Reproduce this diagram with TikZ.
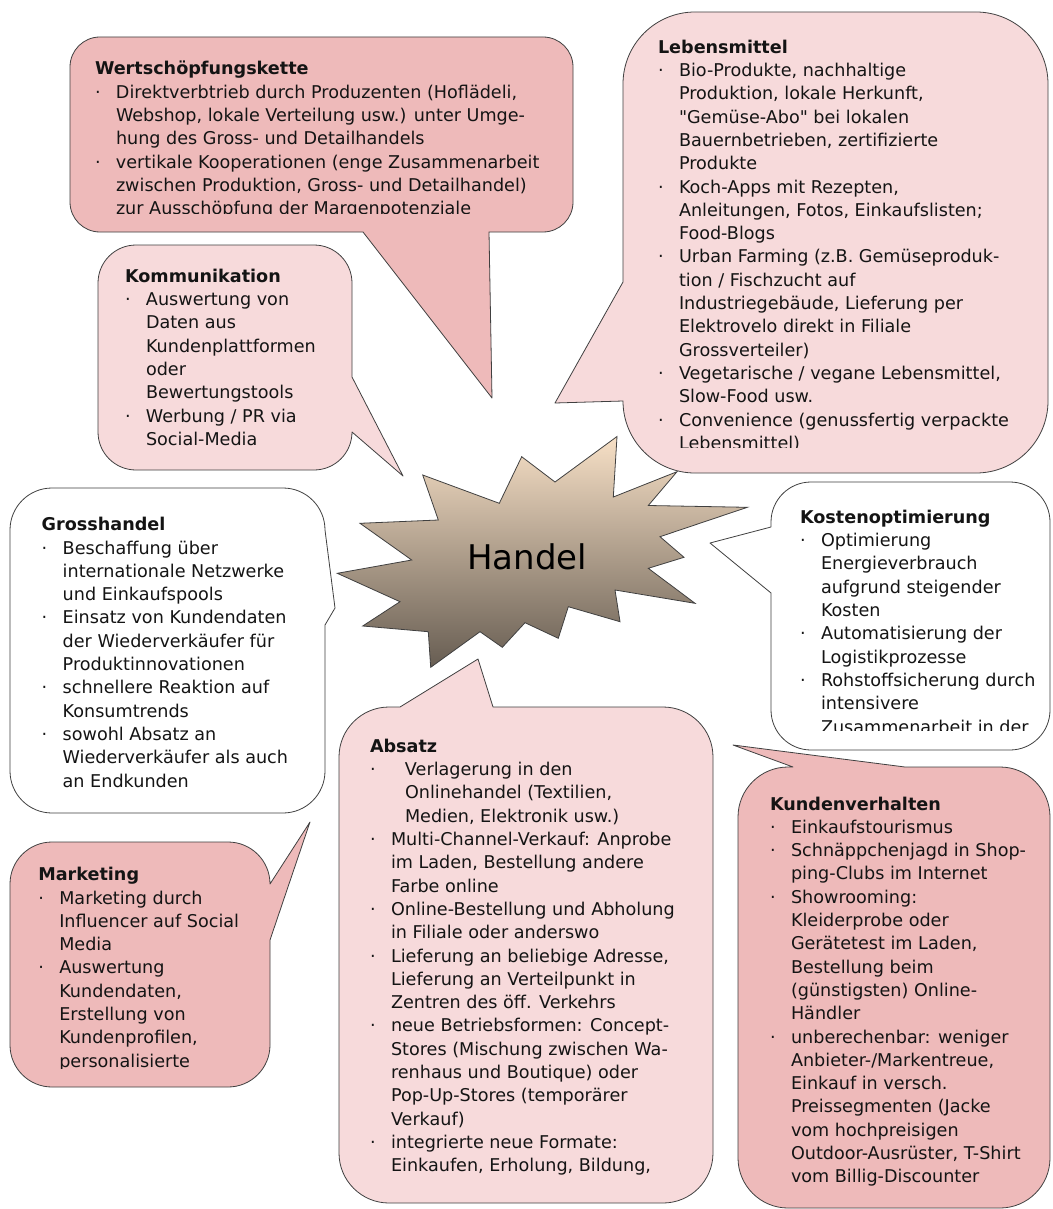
\documentclass[tikz,border=0pt]{standalone}
\usepackage{fontspec}
\setmainfont{DejaVu Sans}
\definecolor{pinkdark}{RGB}{238,186,186}
\definecolor{pinklight}{RGB}{247,218,219}
\definecolor{bordergray}{RGB}{64,64,64}
\definecolor{textcol}{RGB}{20,20,20}
\definecolor{burstTop}{RGB}{247,224,198}
\definecolor{burstBot}{RGB}{103,93,82}
\newcommand\ttl[1]{\hbox{\bfseries #1}}
\newcommand\itm[1]{\hbox{\hbox to 21pt{·\hss}#1}}
\newcommand\cnt[1]{\hbox{\hskip21pt #1}}
\newcommand\itmw[1]{\hbox{\hbox to 35pt{·\hss}#1}}
\newcommand\cntw[1]{\hbox{\hskip35pt #1}}
\newcommand\blk[1]{\vtop{\baselineskip=23.3pt\lineskiplimit=-100pt\lineskip=0pt #1}}
\newcommand\sq{\XeTeXglyph\XeTeXglyphindex "quotedbl" \relax}
\tikzset{
  bub/.style={draw=bordergray, line width=0.8pt, line join=round},
  pinkA/.style={bub, fill=pinkdark},
  pinkB/.style={bub, fill=pinklight},
  whitebub/.style={bub, fill=white},
  txt/.style={anchor=base west, inner sep=0pt, outer sep=0pt, text=textcol,
    font=\fontsize{17.6}{23.3}\selectfont},
  burst/.style={draw=bordergray, line width=0.8pt, line join=miter, top color=burstTop, bottom color=burstBot},
}
\begin{document}
\begin{tikzpicture}[x=1pt,y=-1pt]
\useasboundingbox (0,0) rectangle (1052,1209);
\fill[white] (0,0) rectangle (1052,1209);

% Wertschoepfungskette
\draw[pinkA] (100,37) -- (543,37) .. controls (559.6,37) and (573,50.4) .. (573,67) -- (573,202) .. controls (573,218.6) and (559.6,232) .. (543,232) -- (489,232) -- (492,398) -- (363,232) -- (100,232) .. controls (83.4,232) and (70,218.6) .. (70,202) -- (70,67) .. controls (70,50.4) and (83.4,37) .. (100,37) -- cycle;
\begin{scope}
\clip (70,37) rectangle (573,213);
\node[txt] (wtxt) at (95,75) {\blk{%
\ttl{Wertschöpfungskette}
\itm{Direktverbtrieb durch Produzenten (Hoflädeli,}
\cnt{Webshop, lokale Verteilung usw.) unter Umge-}
\cnt{hung des Gross- und Detailhandels}
\itm{vertikale Kooperationen (enge Zusammenarbeit}
\cnt{zwischen Produktion, Gross- und Detailhandel)}
\cnt{zur Ausschöpfung der Margenpotenziale}}};
\end{scope}

% Lebensmittel
\draw[pinkB] (695,12) -- (976,12) .. controls (1015.8,12) and (1048,44.2) .. (1048,84) -- (1048,401) .. controls (1048,440.8) and (1015.8,473) .. (976,473) -- (695,473) .. controls (655.2,473) and (623,440.8) .. (623,401) -- (555,403) -- (623,282) -- (623,84) .. controls (623,44.2) and (655.2,12) .. (695,12) -- cycle;
\begin{scope}
\clip (623,12) rectangle (1048,447);
\node[txt] (ltxt) at (658,53.3) {\blk{%
\ttl{Lebensmittel}
\itm{Bio-Produkte, nachhaltige}
\cnt{Produktion, lokale Herkunft,}
\cnt{\sq Gemüse-Abo\sq{} bei lokalen}
\cnt{Bauernbetrieben, zertifizierte}
\cnt{Produkte}
\itm{Koch-Apps mit Rezepten,}
\cnt{Anleitungen, Fotos, Einkaufslisten;}
\cnt{Food-Blogs}
\itm{Urban Farming (z.B. Gemüseproduk-}
\cnt{tion / Fischzucht auf}
\cnt{Industriegebäude, Lieferung per}
\cnt{Elektrovelo direkt in Filiale}
\cnt{Grossverteiler)}
\itm{Vegetarische / vegane Lebensmittel,}
\cnt{Slow-Food usw.}
\itm{Convenience (genussfertig verpackte}
\cnt{Lebensmittel)}}};
\end{scope}

% Kommunikation
\draw[pinkB] (136,245) -- (314,245) .. controls (335,245) and (352,262) .. (352,283) -- (352,377) -- (403,476) -- (352,432) .. controls (352,453) and (335,470) .. (314,470) -- (136,470) .. controls (115,470) and (98,453) .. (98,432) -- (98,283) .. controls (98,262) and (115,245) .. (136,245) -- cycle;
\node[txt] (ktxt) at (125,282.3) {\blk{%
\ttl{Kommunikation}
\itm{Auswertung von}
\cnt{Daten aus}
\cnt{Kundenplattformen}
\cnt{oder}
\cnt{Bewertungstools}
\itm{Werbung / PR via}
\cnt{Social-Media}}};

% Grosshandel
\draw[whitebub] (52,488) -- (283,488) .. controls (306.2,488) and (325,506.8) .. (325,530) -- (335,608) -- (325,625) -- (325,771) .. controls (325,794.2) and (306.2,813) .. (283,813) -- (52,813) .. controls (28.8,813) and (10,794.2) .. (10,771) -- (10,530) .. controls (10,506.8) and (28.8,488) .. (52,488) -- cycle;
\node[txt] (gtxt) at (41.7,530.7) {\blk{%
\ttl{Grosshandel}
\itm{Beschaffung über}
\cnt{internationale Netzwerke}
\cnt{und Einkaufspools}
\itm{Einsatz von Kundendaten}
\cnt{der Wiederverkäufer für}
\cnt{Produktinnovationen}
\itm{schnellere Reaktion auf}
\cnt{Konsumtrends}
\itm{sowohl Absatz an}
\cnt{Wiederverkäufer als auch}
\cnt{an Endkunden}}};

% Kostenoptimierung
\draw[whitebub] (811,482) -- (1010,482) .. controls (1032.1,482) and (1050,499.9) .. (1050,522) -- (1050,710) .. controls (1050,732.1) and (1032.1,750) .. (1010,750) -- (811,750) .. controls (788.9,750) and (771,732.1) .. (771,710) -- (771,593) -- (710,543) -- (771,527) -- (771,522) .. controls (771,499.9) and (788.9,482) .. (811,482) -- cycle;
\begin{scope}
\clip (771,482) rectangle (1050,730);
\node[txt] (otxt) at (800,523.3) {\blk{%
\ttl{Kostenoptimierung}
\itm{Optimierung}
\cnt{Energieverbrauch}
\cnt{aufgrund steigender}
\cnt{Kosten}
\itm{Automatisierung der}
\cnt{Logistikprozesse}
\itm{Rohstoffsicherung durch}
\cnt{intensivere}
\cnt{Zusammenarbeit in der}}};
\end{scope}

% Marketing
\draw[pinkA] (52,842) -- (228,842) .. controls (251.2,842) and (270,860.8) .. (270,884) -- (310,822) -- (270,940) -- (270,1045) .. controls (270,1068.2) and (251.2,1087) .. (228,1087) -- (52,1087) .. controls (28.8,1087) and (10,1068.2) .. (10,1045) -- (10,884) .. controls (10,860.8) and (28.8,842) .. (52,842) -- cycle;
\begin{scope}
\clip (10,842) rectangle (270,1068);
\node[txt] (mtxt) at (38.3,880.7) {\blk{%
\ttl{Marketing}
\itm{Marketing durch}
\cnt{Influencer auf Social}
\cnt{Media}
\itm{Auswertung}
\cnt{Kundendaten,}
\cnt{Erstellung von}
\cnt{Kundenprofilen,}
\cnt{personalisierte}}};
\end{scope}

% Absatz
\draw[pinkB] (389,707) -- (400,707) -- (478,659) -- (493,707) -- (663,707) .. controls (690.6,707) and (713,729.4) .. (713,757) -- (713,1153) .. controls (713,1180.6) and (690.6,1203) .. (663,1203) -- (389,1203) .. controls (361.4,1203) and (339,1180.6) .. (339,1153) -- (339,757) .. controls (339,729.4) and (361.4,707) .. (389,707) -- cycle;
\node[txt] (atxt) at (370,752.3) {\blk{%
\ttl{Absatz}
\itmw{Verlagerung in den}
\cntw{Onlinehandel (Textilien,}
\cntw{Medien, Elektronik usw.)}
\itm{Multi-Channel-Verkauf: Anprobe}
\cnt{im Laden, Bestellung andere}
\cnt{Farbe online}
\itm{Online-Bestellung und Abholung}
\cnt{in Filiale oder anderswo}
\itm{Lieferung an beliebige Adresse,}
\cnt{Lieferung an Verteilpunkt in}
\cnt{Zentren des öff. Verkehrs}
\itm{neue Betriebsformen: Concept-}
\cnt{Stores (Mischung zwischen Wa-}
\cnt{renhaus und Boutique) oder}
\cnt{Pop-Up-Stores (temporärer}
\cnt{Verkauf)}
\itm{integrierte neue Formate:}
\cnt{Einkaufen, Erholung, Bildung,}}};

% Kundenverhalten
\draw[pinkA] (788,767) -- (793,767) -- (733,745) -- (905,767) -- (1000,767) .. controls (1027.6,767) and (1050,789.4) .. (1050,817) -- (1050,1158) .. controls (1050,1185.6) and (1027.6,1208) .. (1000,1208) -- (788,1208) .. controls (760.4,1208) and (738,1185.6) .. (738,1158) -- (738,817) .. controls (738,789.4) and (760.4,767) .. (788,767) -- cycle;
\node[txt] (vtxt) at (770,810) {\blk{%
\ttl{Kundenverhalten}
\itm{Einkaufstourismus}
\itm{Schnäppchenjagd in Shop-}
\cnt{ping-Clubs im Internet}
\itm{Showrooming:}
\cnt{Kleiderprobe oder}
\cnt{Gerätetest im Laden,}
\cnt{Bestellung beim}
\cnt{(günstigsten) Online-}
\cnt{Händler}
\itm{unberechenbar: weniger}
\cnt{Anbieter-/Markentreue,}
\cnt{Einkauf in versch.}
\cnt{Preissegmenten (Jacke}
\cnt{vom hochpreisigen}
\cnt{Outdoor-Ausrüster, T-Shirt}
\cnt{vom Billig-Discounter}}};

% Starburst
\draw[burst] (521.7,456.7) -- (555,482) -- (617,436.5) -- (613.3,497) -- (677,471.7) -- (648.3,505.5) -- (747.3,507.3) -- (660,536.7) -- (684,557.3) -- (648.3,568.3) -- (695,603.3) -- (615,590) -- (620,621.7) -- (568.3,606.7) -- (558.3,638.3) -- (525,622.7) -- (502.3,647.3) -- (480,631.7) -- (430.7,667.3) -- (428.3,631.7) -- (362.7,626) -- (400,601.7) -- (337.3,573.3) -- (411.7,560) -- (360,523.3) -- (438.3,520) -- (422.7,475) -- (499.3,503.3) -- cycle;
\node[text=black, font=\fontsize{34}{40}\selectfont, inner sep=0pt] (handel) at (527,557) {Handel};
\end{tikzpicture}
\end{document}
